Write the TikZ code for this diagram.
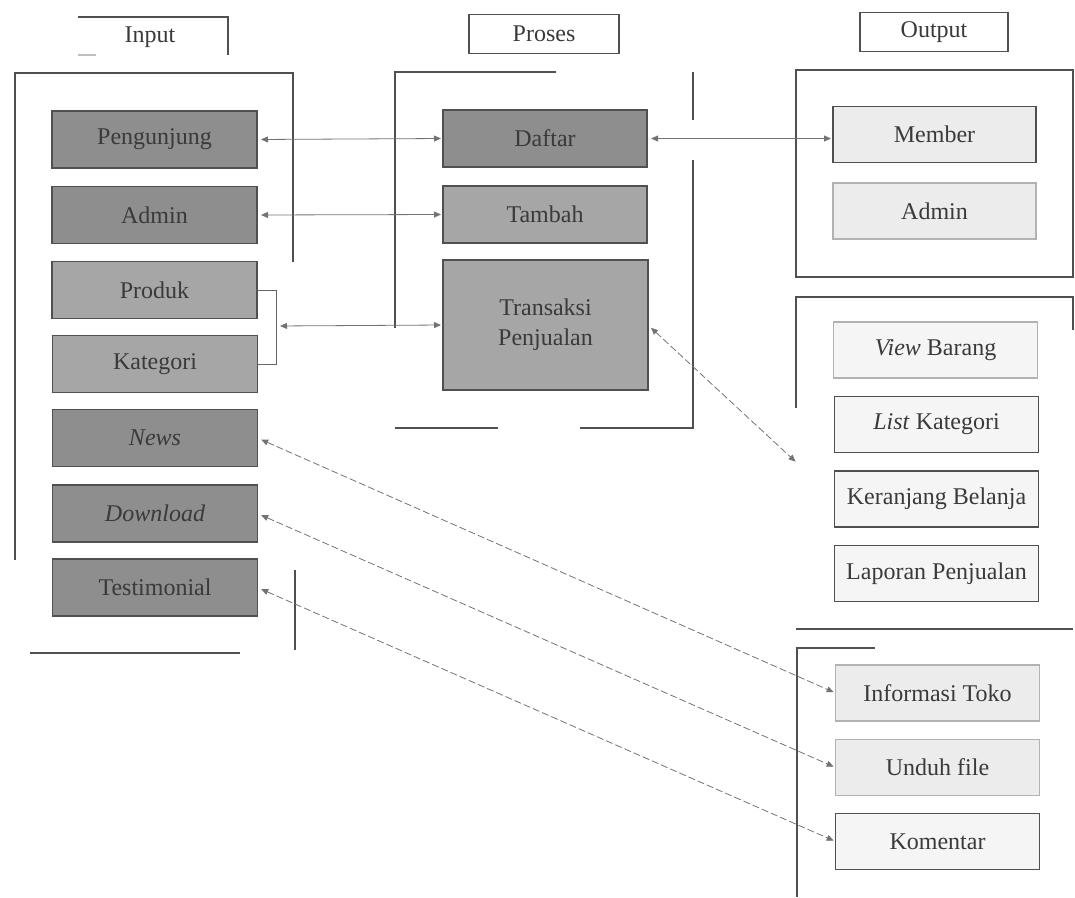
\documentclass[tikz,border=0pt]{standalone}
\usepackage{fontspec}
\setmainfont{Liberation Serif}
\usetikzlibrary{arrows.meta}
\definecolor{ink}{HTML}{3A3A3A}
\definecolor{edge}{HTML}{505050}
\definecolor{darkfill}{HTML}{8E8E8E}
\definecolor{midfill}{HTML}{A6A6A6}
\definecolor{lightfill}{HTML}{ECECEC}
\begin{document}
\begin{tikzpicture}[x=1pt,y=-1pt,
  font=\fontsize{24}{30}\selectfont, text=ink,
  basebox/.style={draw=edge, line width=1.1pt, inner sep=0pt, outer sep=0pt, align=center},
  darkbox/.style={basebox, fill=darkfill, minimum width=205pt, minimum height=57pt},
  midbox/.style={basebox, fill=midfill, minimum width=205pt, minimum height=57pt},
  outbox/.style={basebox, fill=lightfill, minimum width=204pt, minimum height=56pt},
  hdrbox/.style={basebox, fill=white, minimum width=150pt, minimum height=39pt},
  framepart/.style={draw=edge, line width=1.2pt},
  conn/.style={draw=black!55, line width=0.8pt, {Triangle[length=7pt,width=6pt]}-{Triangle[length=7pt,width=6pt]}, shorten <=4pt, shorten >=2pt},
  dconn/.style={conn, dash pattern=on 7pt off 3pt}
]
\useasboundingbox (0,0) rectangle (1075,897);

% headers
\node[inner sep=0pt] (hin) at (150,37) {Input};
\draw[framepart] (78,17) -- (228,17) -- (228,55);
\draw[framepart, draw=black!25] (78,55) -- (96,55);
\node[hdrbox] (hpr) at (544,34) {Proses};
\node[hdrbox, minimum width=148pt, minimum height=39pt] (hout) at (934,32) {Output};

% input frame
\draw[framepart] (15,560) -- (15,73) -- (293,73) -- (293,262);
\draw[framepart] (295,570) -- (295,650);
\draw[framepart] (30,653) -- (240,653);

% process frame
\draw[framepart] (395,328) -- (395,72) -- (556,72);
\draw[framepart] (693,72) -- (693,120);
\draw[framepart] (693,160) -- (693,428) -- (580,428);
\draw[framepart] (395,428) -- (498,428);

% output frames
\draw[framepart] (796,70) rectangle (1073,277);
\draw[framepart] (796,408) -- (796,297) -- (1073,297) -- (1073,330);
\draw[framepart] (796,629) -- (1073,629);
\draw[framepart] (875,648) -- (797,648) -- (797,897);

% input boxes
\node[darkbox] (peng) at (154.5,139.5) {Pengunjung};
\node[darkbox] (admin) at (154.5,215) {Admin};
\node[midbox] (produk) at (154.5,290) {Produk};
\node[midbox] (kat) at (155,364) {Kategori};
\node[darkbox] (news) at (155,438) {\itshape News};
\node[darkbox] (down) at (155,513.5) {\itshape Download};
\node[darkbox] (testi) at (155,587.5) {Testimonial};

% process boxes
\node[darkbox, minimum width=204pt] (daftar) at (545,138.5) {Daftar};
\node[midbox, minimum width=204pt] (tambah) at (545,214.5) {Tambah};
\node[midbox, minimum width=205pt, minimum height=130pt] (trans) at (545.5,325) {Transaksi\\Penjualan};

% output boxes
\node[outbox, minimum width=203pt] (member) at (934.5,134.5) {Member};
\node[outbox, minimum width=203pt, draw=black!30] (oadmin) at (934.5,211) {Admin};
\node[outbox, fill=black!4, draw=black!30] (view) at (935.5,350) {\textit{View} Barang};
\node[outbox, fill=black!4] (list) at (936.5,424.5) {\textit{List} Kategori};
\node[outbox, fill=black!4] (keran) at (936.5,499) {Keranjang Belanja};
\node[outbox, fill=black!4] (lapor) at (936.5,573.5) {Laporan Penjualan};
\node[outbox, draw=black!30] (info) at (937.5,693) {Informasi Toko};
\node[outbox, draw=black!30] (unduh) at (937.5,767.5) {Unduh file};
\node[outbox, fill=black!4] (komen) at (937.5,841.5) {Komentar};

% bracket joining Produk and Kategori
\coordinate (brk) at (276,326);
\draw[draw=black!60, line width=0.9pt] (produk.east) -- (276,290) -- (276,364) -- (kat.east);

% connectors
\draw[conn] (peng.east) -- (daftar.west);
\draw[conn] (admin.east) -- (tambah.west);
\draw[conn] (brk) -- (trans.west);
\draw[conn] (daftar.east) -- (daftar.east -| member.west);
\coordinate (o2) at (797,463);
\draw[dconn] (trans.east) -- (o2);
\draw[dconn] (news.east) -- (info.west);
\draw[dconn] (down.east) -- (unduh.west);
\draw[dconn] (testi.east) -- (komen.west);
\end{tikzpicture}
\end{document}
